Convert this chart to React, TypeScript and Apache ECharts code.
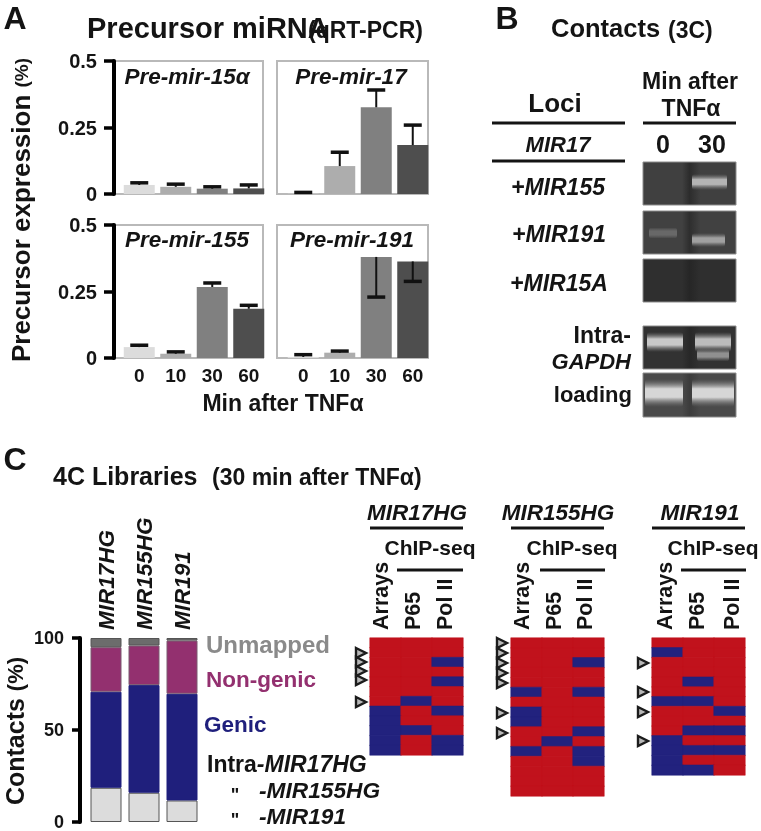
import React, { useEffect, useRef } from "react";
import * as echarts from "echarts";

const FONT = "Liberation Sans";
const INK = "#141414";
const HEAT_RED = "#c1121c";
const HEAT_BLUE = "#22227e";

// Panel A
const minutes = ["0", "10", "30", "60"];
const barShades = ["#dcdcdc", "#adadad", "#808080", "#4e4e4e"];
const preMir15Values = [0.034, 0.027, 0.02, 0.021];
const preMir15Caps = [0.042, 0.037, 0.027, 0.034];
const preMir17Values = [0.001, 0.105, 0.326, 0.184];
const preMir17Caps = [0.006, 0.157, 0.391, 0.259];
const preMir155Values = [0.041, 0.016, 0.267, 0.185];
const preMir155Caps = [0.048, 0.023, 0.282, 0.198];
const preMir191Values = [0.004, 0.02, 0.38, 0.363];
const preMir191Caps = [0.0125, 0.026, 0.229, 0.288];

// Panel C stacked bars
const libraries = ["MIR17HG", "MIR155HG", "MIR191"];
const intraContacts = [18.6, 15.9, 11.7];
const genicContacts = [52.2, 58.5, 58];
const nonGenicContacts = [24.2, 21.5, 28.9];
const unmappedContacts = [5, 4.1, 1.4];

// Panel C heat maps: rows of [Arrays, P65, Pol II], 1 = blue
const mir17hgRows = [
  [0, 0, 0], [0, 0, 0], [0, 0, 1], [0, 0, 0], [0, 0, 1], [0, 0, 0],
  [0, 1, 0], [1, 0, 1], [1, 0, 0], [1, 1, 0], [1, 0, 1], [1, 0, 1],
];
const mir155hgRows = [
  [0, 0, 0], [0, 0, 0], [0, 0, 1], [0, 0, 0], [0, 0, 0], [1, 0, 1],
  [0, 0, 0], [1, 0, 0], [1, 0, 0], [0, 0, 1], [0, 1, 0], [1, 0, 1],
  [0, 0, 1], [0, 0, 0], [0, 0, 0], [0, 0, 0],
];
const mir191Rows = [
  [0, 0, 0], [1, 0, 0], [0, 0, 0], [0, 0, 0], [0, 1, 0], [0, 0, 0],
  [1, 1, 0], [0, 0, 1], [0, 0, 0], [0, 1, 1], [1, 0, 0], [1, 1, 1],
  [1, 0, 0], [1, 1, 0],
];

const text = (t: string, x: number, y: number, size: number, o: any = {}) => ({
  type: "text",
  x,
  y,
  rotation: o.rotation ?? 0,
  silent: true,
  z: 20,
  style: {
    text: t,
    fontFamily: FONT,
    fontSize: size,
    fontWeight: o.weight ?? "bold",
    fontStyle: o.italic ? "italic" : "normal",
    fill: o.fill ?? INK,
    align: o.align ?? "center",
    verticalAlign: "middle",
    rich: o.rich,
  },
});

const rule = (x1: number, x2: number, y: number, w = 3) => ({
  type: "line",
  silent: true,
  shape: { x1, y1: y, x2, y2: y },
  style: { stroke: INK, lineWidth: w },
});

const frame = (x: number, y: number, w: number, h: number) => ({
  type: "rect",
  silent: true,
  z: 0,
  shape: { x, y, width: w, height: h },
  style: { fill: "none", stroke: "#b9b9b9", lineWidth: 2 },
});

const triangle = (x: number, y: number) => ({
  type: "polygon",
  silent: true,
  z: 21,
  shape: { points: [[x + 1, y - 5], [x + 11, y], [x + 1, y + 5]] },
  style: { fill: "#b8b8b8", stroke: "#1c1c1c", lineWidth: 2.4, lineJoin: "miter" },
});

const gel = (y: number, h: number, edge: string, mid: string) => ({
  type: "rect",
  silent: true,
  shape: { x: 643, y, width: 93, height: h },
  style: {
    stroke: "#8c8c8c",
    lineWidth: 1,
    fill: new echarts.graphic.LinearGradient(0, 0, 1, 0, [
      { offset: 0, color: edge },
      { offset: 0.42, color: edge },
      { offset: 0.5, color: mid },
      { offset: 0.62, color: edge },
      { offset: 1, color: edge },
    ]),
  },
});

const band = (x: number, cy: number, w: number, h: number, c: string) => ({
  type: "rect",
  silent: true,
  shape: { x, y: cy - h / 2, width: w, height: h, r: 3 },
  style: {
    fill: new echarts.graphic.LinearGradient(0, 0, 0, 1, [
      { offset: 0, color: "rgba(120,120,120,0)" },
      { offset: 0.35, color: c },
      { offset: 0.65, color: c },
      { offset: 1, color: "rgba(120,120,120,0)" },
    ]),
  },
});

const barPanel = (
  left: number,
  top: number,
  values: number[],
  caps: number[],
  gridIndex: number,
  showY: boolean,
  showX: boolean
) => ({
  grid: { left, top, width: 146, height: 133 },
  xAxis: {
    type: "category",
    gridIndex,
    data: minutes,
    axisLine: { show: false },
    axisTick: { show: false },
    axisLabel: {
      show: showX,
      margin: 8,
      interval: 0,
      color: INK,
      fontFamily: FONT,
      fontWeight: "bold",
      fontSize: 19,
    },
  },
  yAxis: {
    type: "value",
    gridIndex,
    show: showY,
    min: 0,
    max: 0.5,
    interval: 0.25,
    offset: 7,
    splitLine: { show: false },
    axisLine: { show: true, lineStyle: { color: "#000", width: 4 } },
    axisTick: { show: true, length: 10, lineStyle: { color: "#000", width: 3.5 } },
    axisLabel: {
      margin: 17,
      color: INK,
      fontFamily: FONT,
      fontWeight: "bold",
      fontSize: 20,
      formatter: (v: number) => String(v),
    },
  },
  series: [
    {
      type: "bar",
      xAxisIndex: gridIndex,
      yAxisIndex: gridIndex,
      barWidth: 31,
      data: values.map((v, i) => ({ value: v, itemStyle: { color: barShades[i] } })),
    },
    {
      type: "custom",
      xAxisIndex: gridIndex,
      yAxisIndex: gridIndex,
      clip: false,
      z: 5,
      encode: { x: 0, y: [1, 2] },
      data: values.map((v, i) => [i, caps[i], v]),
      renderItem: (_: any, api: any) => {
        const [x, yCap] = api.coord([api.value(0), api.value(1)]);
        const [, yBar] = api.coord([api.value(0), api.value(2)]);
        return {
          type: "group",
          children: [
            {
              type: "line",
              shape: { x1: x, y1: yBar, x2: x, y2: yCap },
              style: { stroke: "#111", lineWidth: 2 },
            },
            {
              type: "line",
              shape: { x1: x - 9, y1: yCap, x2: x + 9, y2: yCap },
              style: { stroke: "#111", lineWidth: 3.5 },
            },
          ],
        };
      },
    },
  ],
});

const heatPanel = (left: number, rows: number[][], height: number, gridIndex: number) => ({
  grid: { left, top: 638, width: 93, height },
  xAxis: { type: "category", gridIndex, show: false, data: ["Arrays", "P65", "Pol II"] },
  yAxis: {
    type: "category",
    gridIndex,
    show: false,
    inverse: true,
    data: rows.map((_, i) => String(i)),
  },
  series: {
    type: "heatmap",
    xAxisIndex: gridIndex,
    yAxisIndex: gridIndex,
    data: rows.flatMap((row, r) =>
      row.map((v, c) => ({
        value: [c, r, v],
        itemStyle: { borderColor: v ? HEAT_BLUE : HEAT_RED, borderWidth: 0.5 },
      }))
    ),
  },
});

export default function App() {
  const ref = useRef<HTMLDivElement>(null);

  useEffect(() => {
    if (!ref.current) return;
    const chart = echarts.init(ref.current, undefined, { renderer: "svg" });

    const panels = [
      barPanel(121, 61, preMir15Values, preMir15Caps, 0, true, false),
      barPanel(285, 61, preMir17Values, preMir17Caps, 1, false, false),
      barPanel(121, 225, preMir155Values, preMir155Caps, 2, true, true),
      barPanel(285, 225, preMir191Values, preMir191Caps, 3, false, true),
    ];
    const heat = [
      heatPanel(370, mir17hgRows, 117, 5),
      heatPanel(511, mir155hgRows, 158, 6),
      heatPanel(652, mir191Rows, 137, 7),
    ];

    const stackSeries = [
      { name: "Intra", data: intraContacts, color: "#dcdcdc", border: "#555" },
      { name: "Genic", data: genicContacts, color: "#1f1f7c", border: "#1f1f7c" },
      { name: "Non-genic", data: nonGenicContacts, color: "#93306f", border: "#7a5a70" },
      { name: "Unmapped", data: unmappedContacts, color: "#6c6c6c", border: "#555" },
    ].map((s) => ({
      type: "bar",
      name: s.name,
      stack: "contacts",
      xAxisIndex: 4,
      yAxisIndex: 4,
      barWidth: 31,
      data: s.data,
      itemStyle: { color: s.color, borderColor: s.border, borderWidth: 1 },
    }));

    const stackGrid = { left: 87, top: 638, width: 114, height: 185 };
    const stackX = {
      type: "category",
      gridIndex: 4,
      position: "top",
      data: libraries,
      axisLine: { show: false },
      axisTick: { show: false },
      axisLabel: {
        interval: 0,
        rotate: 90,
        margin: 8,
        color: INK,
        fontFamily: FONT,
        fontStyle: "italic",
        fontWeight: "bold",
        fontSize: 22.5,
      },
    };
    const stackY = {
      type: "value",
      gridIndex: 4,
      min: 0,
      max: 100,
      interval: 50,
      offset: 7,
      splitLine: { show: false },
      axisLine: { show: true, lineStyle: { color: "#000", width: 4 } },
      axisTick: { show: true, length: 8, lineStyle: { color: "#000", width: 3.5 } },
      axisLabel: { margin: 16, color: INK, fontFamily: FONT, fontWeight: "bold", fontSize: 18 },
    };

    const italicRich = {
      r: { fontFamily: FONT, fontWeight: "bold", fontSize: 23, fill: INK },
      i: { fontFamily: FONT, fontWeight: "bold", fontStyle: "italic", fontSize: 23, fill: INK },
    };

    const graphics: any[] = [
      // Panel A
      text("A", 15, 18, 32, {}),
      text("Precursor miRNA", 87, 28, 29, { align: "left" }),
      text("(qRT-PCR)", 308, 30, 23, { align: "left" }),
      text("{a|Precursor expression} {b|(%)}", 21, 210, 26, {
        rotation: Math.PI / 2,
        rich: {
          a: { fontFamily: FONT, fontWeight: "bold", fontSize: 26, fill: INK },
          b: { fontFamily: FONT, fontWeight: "bold", fontSize: 19, fill: INK },
        },
      }),
      frame(115, 61, 148, 133),
      frame(277, 61, 151, 133),
      frame(115, 225, 148, 133),
      frame(277, 225, 151, 133),
      text("Pre-mir-15α", 187, 76, 22.5, { italic: true }),
      text("Pre-mir-17", 351, 76, 22.5, { italic: true }),
      text("Pre-mir-155", 187, 239, 22.5, { italic: true }),
      text("Pre-mir-191", 352, 239, 22.5, { italic: true }),
      text("Min after TNFα", 283, 403, 23),

      // Panel B
      text("B", 507, 18, 32),
      text("Contacts", 551, 28, 25.5, { align: "left" }),
      text("(3C)", 668, 30, 23, { align: "left" }),
      text("Loci", 555, 103, 26),
      text("Min after", 690, 81, 23),
      text("TNFα", 691, 108, 23),
      rule(492, 625, 123),
      rule(643, 736, 123),
      text("MIR17", 558, 144, 22, { italic: true }),
      text("0", 663, 144, 25),
      text("30", 712, 144, 25),
      rule(492, 625, 161),
      text("+MIR155", 558, 187, 23, { italic: true }),
      text("+MIR191", 559, 234, 23, { italic: true }),
      text("+MIR15A", 559, 283, 23, { italic: true }),
      text("Intra-", 631, 335, 23, { align: "right" }),
      text("GAPDH", 631, 361, 22, { align: "right", italic: true }),
      text("loading", 632, 394, 22, { align: "right" }),
      gel(162, 43, "#404040", "#2c2c2c"),
      band(692, 182, 35, 16, "#b4b4b4"),
      gel(211, 43, "#414141", "#2e2e2e"),
      band(649, 233, 28, 11, "#686868"),
      band(692, 240, 33, 14, "#a0a0a0"),
      gel(259, 43, "#2f2f2f", "#262626"),
      gel(326, 43, "#323232", "#282828"),
      band(647, 342, 36, 20, "#c8c8c8"),
      band(695, 342, 36, 20, "#bcbcbc"),
      band(697, 355, 32, 13, "#909090"),
      gel(373, 44, "#4a4a4a", "#3c3c3c"),
      band(645, 393, 38, 28, "#d6d6d6"),
      band(692, 393, 42, 28, "#d6d6d6"),

      // Panel C
      text("C", 15, 459, 32),
      text("4C Libraries", 53, 476, 25, { align: "left" }),
      text("(30 min after TNFα)", 212, 477, 23, { align: "left" }),
      text("{a|Contacts} {b|(%)}", 15, 731, 25, {
        rotation: Math.PI / 2,
        rich: {
          a: { fontFamily: FONT, fontWeight: "bold", fontSize: 25, fill: INK },
          b: { fontFamily: FONT, fontWeight: "bold", fontSize: 22, fill: INK },
        },
      }),
      text("Unmapped", 206, 644, 24, { align: "left", fill: "#8a8a8a" }),
      text("Non-genic", 206, 679, 22.5, { align: "left", fill: "#93306f" }),
      text("Genic", 204, 724, 22.5, { align: "left", fill: "#1f1f7c" }),
      text("{r|Intra}{i|-MIR17HG}", 207, 764, 23, { align: "left", rich: italicRich }),
      text("\"", 235, 795, 18),
      text("-MIR155HG", 259, 790, 22.7, { align: "left", italic: true }),
      text("\"", 235, 820, 18),
      text("-MIR191", 259, 816, 22.7, { align: "left", italic: true }),

      // Heat map headers
      text("MIR17HG", 417, 512, 22.5, { italic: true }),
      rule(370, 463, 528),
      text("ChIP-seq", 430, 547, 21),
      rule(397, 463, 570),
      text("MIR155HG", 558, 512, 22.5, { italic: true }),
      rule(511, 604, 528),
      text("ChIP-seq", 572, 547, 21),
      rule(540, 605, 570),
      text("MIR191", 700, 512, 22.5, { italic: true }),
      rule(652, 745, 528),
      text("ChIP-seq", 713, 547, 21),
      rule(681, 746, 570),
    ];

    [
      [381, 413, 445],
      [522, 554, 585],
      [665, 697, 732],
    ].forEach((xs) => {
      ["Arrays", "P65", "Pol II"].forEach((label, i) => {
        graphics.push(
          text(label, xs[i], 630, 21.5, { align: "left", rotation: Math.PI / 2 })
        );
      });
    });

    [653, 662, 671, 680, 702].forEach((y) => graphics.push(triangle(355, y)));
    [643, 653, 663, 673, 683, 713, 733].forEach((y) => graphics.push(triangle(496, y)));
    [663, 692, 712, 741].forEach((y) => graphics.push(triangle(637, y)));

    chart.setOption({
      animation: false,
      backgroundColor: "#fff",
      grid: [...panels.map((p) => p.grid), stackGrid, ...heat.map((h) => h.grid)],
      xAxis: [...panels.map((p) => p.xAxis), stackX, ...heat.map((h) => h.xAxis)],
      yAxis: [...panels.map((p) => p.yAxis), stackY, ...heat.map((h) => h.yAxis)],
      visualMap: {
        show: false,
        type: "piecewise",
        seriesIndex: [12, 13, 14],
        pieces: [
          { value: 0, color: HEAT_RED },
          { value: 1, color: HEAT_BLUE },
        ],
      },
      series: [...panels.flatMap((p) => p.series), ...stackSeries, ...heat.map((h) => h.series)],
      graphic: graphics,
    });

    return () => chart.dispose();
  }, []);

  return (
    <div
      ref={ref}
      style={{
        position: "fixed",
        left: 0,
        top: 0,
        width: 761,
        height: 831,
        background: "#fff",
        filter: "blur(0.5px)",
      }}
    />
  );
}
